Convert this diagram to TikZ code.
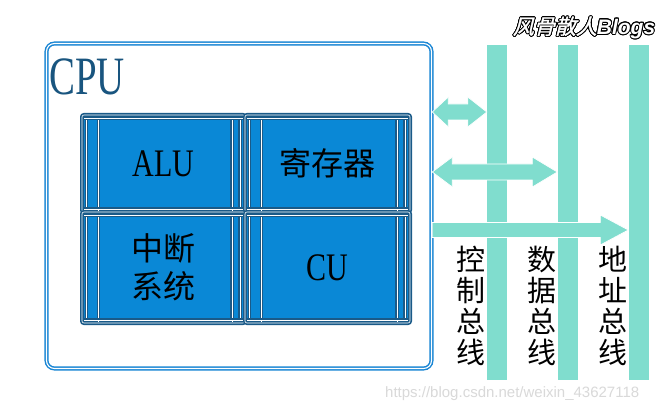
\documentclass[tikz,border=0pt]{standalone}
\usepackage{fontspec}
\setmainfont{Liberation Serif}
\newfontfamily\cjk{Noto Sans CJK SC}
\newfontfamily\cjkhead[FakeSlant=0.25,FakeBold=1.5]{Noto Sans CJK SC}
\newfontfamily\wmfont{Liberation Sans}
\usepackage{contour}
\contourlength{0.9pt}
\usetikzlibrary{calc}
\definecolor{busc}{HTML}{80DDCE}
\definecolor{cpublue}{HTML}{1A86D4}
\definecolor{cellfill}{HTML}{0A88D6}
\definecolor{celledge}{HTML}{1A5A88}
\definecolor{cputext}{HTML}{19557F}
\tikzset{
  busbar/.style={fill=busc, draw=none, inner sep=0pt, minimum width=20pt, minimum height=335pt},
  arrowfill/.style={fill=busc, draw=white, line width=0.7pt, line join=miter},
  cpubox/.style={draw=cpublue, line width=1.5pt, double=white, double distance=1.1pt, rounded corners=8pt, inner sep=0pt},
  cell/.style={fill=cellfill, draw=celledge, line width=1.7pt, double=white, double distance=0.6pt, rounded corners=2pt, inner sep=0pt},
  cellline/.style={draw=celledge, line width=1.4pt, double=white, double distance=0.5pt},
  celltext/.style={font=\fontsize{39}{39}\selectfont, text=black, inner sep=0pt},
  cjktext/.style={font=\cjk\fontsize{32}{38}\selectfont, text=black, align=center, inner sep=0pt},
  buslabel/.style={font=\cjk\fontsize{29}{31}\selectfont, text=black, align=center, inner sep=0pt},
}
\begin{document}
\begin{tikzpicture}[x=1pt,y=-1pt]
\useasboundingbox (0,0) rectangle (666,411);
\fill[white] (0,0) rectangle (666,411);

% bus bars
\node[busbar] (b1) at (497,212.5) {};
\node[busbar] (b2) at (567.5,212.5) {};
\node[busbar] (b3) at (638.5,212.5) {};

% CPU box
\node[cpubox, minimum width=385pt, minimum height=325pt] (cpu) at (239,206) {};

\node[anchor=west, text=cputext, font=\fontsize{54}{54}\selectfont, inner sep=0pt] (cputxt) at (49,77) {\scalebox{0.72}[1]{CPU}};

% cells
\node[cell, minimum width=163pt, minimum height=97pt] (alu) at (163.5,163.5) {};
\node[cell, minimum width=165pt, minimum height=97pt] (reg) at (327.5,163.5) {};
\node[cell, minimum width=163pt, minimum height=111pt] (intr) at (163.5,267.5) {};
\node[cell, minimum width=165pt, minimum height=111pt] (cu) at (327.5,267.5) {};
\foreach \c in {alu,reg,intr,cu}{
  \draw[cellline] ($(\c.north west)+(5,3)$) -- ($(\c.south west)+(5,-3)$);
  \draw[cellline] ($(\c.north west)+(17,2)$) -- ($(\c.south west)+(17,-2)$);
  \draw[cellline] ($(\c.north east)+(-6,3)$) -- ($(\c.south east)+(-6,-3)$);
  \draw[cellline] ($(\c.north east)+(-14,2)$) -- ($(\c.south east)+(-14,-2)$);
  \draw[cellline] ($(\c.north west)+(3,4)$) -- ($(\c.north east)+(-3,4)$);
  \draw[cellline] ($(\c.south west)+(3,-4)$) -- ($(\c.south east)+(-3,-4)$);
}

\node[celltext] (alut) at (alu) {\scalebox{0.77}[1]{ALU}};
\node[cjktext] (regt) at (reg) {寄存器};
\node[cjktext] (intrt) at (intr) {中断\\系统};
\node[celltext] (cut) at (cu) {\scalebox{0.77}[1]{CU}};

% arrows
\coordinate (s1) at (cpu.east |- 0,112);
\coordinate (e1) at (b1.west |- 0,112);
\coordinate (s2) at (cpu.east |- 0,172);
\coordinate (e2) at (b2.west |- 0,172);
\coordinate (s3) at (cpu.east |- 0,230);
\coordinate (e3) at (b3.west |- 0,230);

\path[arrowfill] (s1) -- ++(16,-15) -- ++(0,7) -- ($(e1)+(-19,-8)$) -- ++(0,-7) -- (e1)
  -- ++(-19,15) -- ++(0,-7) -- ($(s1)+(16,8)$) -- ++(0,7) -- cycle;
\path[arrowfill] (s2) -- ++(20,-15) -- ++(0,7) -- ($(e2)+(-25,-8)$) -- ++(0,-7) -- (e2)
  -- ++(-25,15) -- ++(0,-7) -- ($(s2)+(20,8)$) -- ++(0,7) -- cycle;
\path[arrowfill] ($(s3)+(0,-7.5)$) -- ($(e3)+(-28,-7.5)$) -- ++(0,-7.5) -- (e3)
  -- ++(-28,15) -- ++(0,-7.5) -- ($(s3)+(0,7.5)$) -- cycle;

% bus labels
\node[buslabel] (l1) at (471,306) {控\\制\\总\\线};
\node[buslabel] (l2) at (542,306) {数\\据\\总\\线};
\node[buslabel] (l3) at (613,306) {地\\址\\总\\线};

% header and watermark
\node[text=white, inner sep=0pt] (head) at (584,28) {\contour{black}{\cjkhead\fontsize{21}{21}\selectfont 风骨散人\wmfont\itshape\bfseries Blogs}};
\node[anchor=west, text=black!15, font=\wmfont\fontsize{15}{15}\selectfont, inner sep=0pt] (wm) at (385,394) {https://blog.csdn.net/weixin\_43627118};
\end{tikzpicture}
\end{document}
